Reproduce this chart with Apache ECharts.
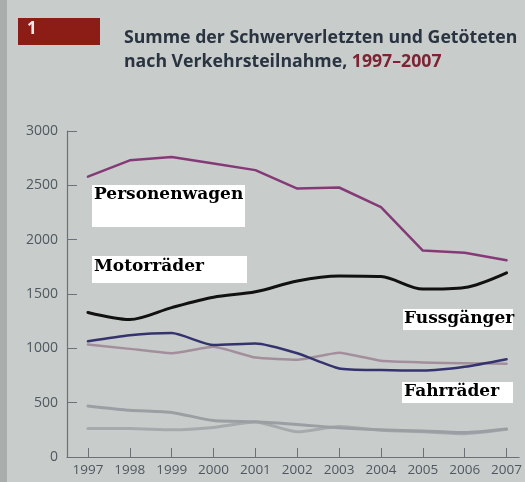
<!DOCTYPE html>
<html><head><meta charset="utf-8">
<script src="https://cdn.jsdelivr.net/npm/echarts@6/dist/echarts.min.js"></script>
<style>html,body{margin:0;padding:0;background:#c8cdcb}#c{width:525px;height:482px}</style>
</head><body><div id="c"></div>
<script>
const years = [1997,1998,1999,2000,2001,2002,2003,2004,2005,2006,2007];
const yTicks = [0,500,1000,1500,2000,2500,3000];
const personenwagen = [2580,2730,2760,2700,2640,2470,2480,2300,1900,1880,1810];
const motorraeder   = [1330,1265,1375,1470,1520,1620,1665,1660,1545,1560,1695];
const fussgaenger   = [1065,1120,1140,1030,1045,955,815,800,795,830,900];
const fahrraeder    = [1035,995,955,1015,915,895,960,885,870,862,858];
const serie5        = [470,430,410,335,325,300,268,250,240,225,258];
const serie6        = [262,262,250,272,322,232,280,245,232,215,255];

const pairs = arr => arr.map((v,i)=>[years[i], v]);
const chart = echarts.init(document.getElementById('c'), null, {renderer:'canvas'});
function line(name, data, color, width, smooth, z){
  return {name, type:'line', data:pairs(data), symbol:'none', smooth, z,
    lineStyle:{color, width, cap:'round', join:'round'}};
}
const labelBox = (x,y,w,h,text,tx,ty) => ({
  type:'group', children:[
    {type:'rect', shape:{x,y,width:w,height:h}, style:{fill:'#ffffff'}},
    {type:'text', x:tx, y:ty, style:{text, fill:'#000', font:'bold 17px "DejaVu Serif"'}}
  ]});
chart.setOption({
  backgroundColor:'#c8cdcb',
  animation:false,
  grid:{left:67, right:0, top:131, bottom:25},
  xAxis:{type:'value', min:1996.5, max:2007.3,
    axisLine:{lineStyle:{color:'#6b7176', width:1.2}},
    axisTick:{customValues:years, length:9, inside:true, lineStyle:{color:'#6b7176'}},
    axisLabel:{customValues:years, formatter:v=>String(v), color:'#4f5860', fontSize:13.5, margin:6, fontFamily:'"Open Sans"'},
    splitLine:{show:false}},
  yAxis:{type:'value', min:0, max:3000, interval:500,
    axisLine:{show:true, lineStyle:{color:'#6b7176', width:1.2}},
    axisTick:{show:true, inside:true, length:10, lineStyle:{color:'#6b7176'}},
    axisLabel:{formatter:v=>String(v), color:'#4f5860', fontSize:14, margin:9, fontFamily:'"Open Sans"'},
    splitLine:{show:false}},
  series:[
    line('Serie 6', serie6, '#a6aaad', 3, 0.2, 2),
    line('Serie 5', serie5, '#9b9fa3', 3, 0.2, 2),
    line('Fahrräder', fahrraeder, '#a38f9c', 2.5, 0.15, 3),
    line('Fussgänger', fussgaenger, '#35336e', 2.5, 0.2, 4),
    line('Motorräder', motorraeder, '#111111', 3, 0.3, 5),
    line('Personenwagen', personenwagen, '#853a78', 2.5, false, 5)
  ],
  graphic:[
    {type:'rect', shape:{x:0,y:0,width:7,height:482}, style:{fill:'#a9aeac'}, z:-1},
    {type:'rect', shape:{x:18,y:18,width:82,height:27}, style:{fill:'#8c1c16'}},
    {type:'text', x:27, y:21, style:{text:'1', fill:'#f0e8e6', font:'bold 17px "Open Sans"'}},
    {type:'text', x:124, y:26, style:{
      text:'Summe der Schwerverletzten und Getöteten\n{b|nach Verkehrsteilnahme, }{c|1997–2007}',
      fill:'#2a3340', font:'bold 17.7px "Open Sans"', lineHeight:24,
      rich:{b:{fill:'#2a3340', font:'bold 17.7px "Open Sans"', lineHeight:24},
            c:{fill:'#7d2333', font:'bold 17.7px "Open Sans"', lineHeight:24}}}},
    labelBox(92,185,153,42,'Personenwagen',94,186),
    labelBox(92,256,155,27,'Motorräder',94,258),
    labelBox(403,309,110,21,'Fussgänger',404,310),
    labelBox(402,382,111,21,'Fahrräder',404,383)
  ]
});
</script></body></html>
